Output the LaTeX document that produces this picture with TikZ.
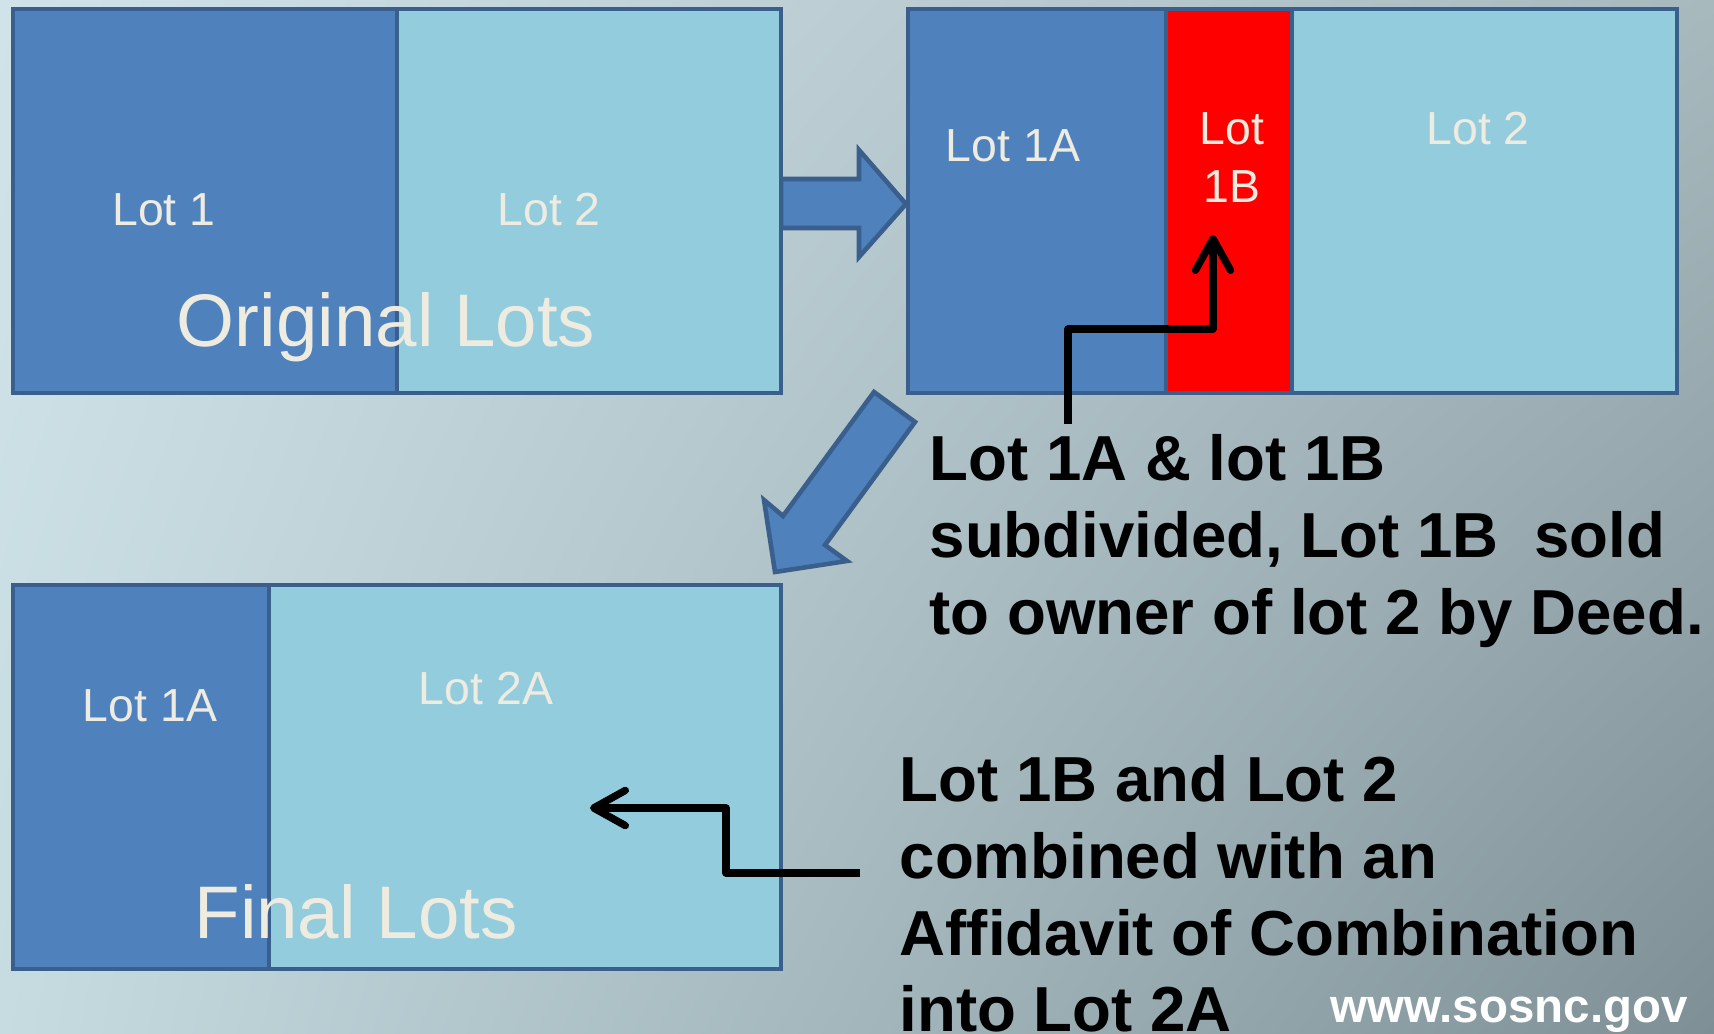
\documentclass[tikz,border=0pt]{standalone}
\usepackage{fontspec}
\setmainfont{Liberation Sans}
\usetikzlibrary{arrows.meta,shadings}

\definecolor{lotdark}{HTML}{4F81BD}
\definecolor{lotlight}{HTML}{93CDDD}
\definecolor{lotedge}{HTML}{3A5F8C}
\definecolor{labeltext}{HTML}{EEECE1}
\definecolor{bgul}{HTML}{D0E3E9}
\definecolor{bgur}{HTML}{A8B9BE}
\definecolor{bgll}{HTML}{C6DCE1}
\definecolor{bglr}{HTML}{7E9096}

\begin{document}
\begin{tikzpicture}[
  lot/.style = {draw=lotedge, line width=1.3pt},
  lotlabel/.style = {text=labeltext, inner sep=0pt, font=\fontsize{13.2}{16.5}\selectfont},
  bigtitle/.style = {text=labeltext, inner sep=0pt, anchor=base, font=\fontsize{21.2}{25}\selectfont},
  note/.style = {inner sep=0pt, anchor=north west, align=left, font=\bfseries\fontsize{18.1}{21.8}\selectfont},
  blockarrow/.style = {fill=lotdark, draw=lotedge, line width=1.3pt},
  bentarrow/.style = {line width=2.1pt, line join=round, -{Straight Barb[length=9pt,width=10pt,round]}}
]

\useasboundingbox (0,0) rectangle (17.14,10.33);
\shade[upper left=bgul, upper right=bgur, lower left=bgll, lower right=bglr]
  (0,0) rectangle (17.14,10.33);

% block arrows
\draw[blockarrow] (7.81,8.54) -- (8.59,8.54) -- (8.59,8.83) -- (9.06,8.29)
  -- (8.59,7.76) -- (8.59,8.05) -- (7.81,8.05) -- cycle;
\draw[blockarrow] (8.74,6.41) -- (9.15,6.11) -- (8.25,4.88) -- (8.47,4.72)
  -- (7.75,4.61) -- (7.64,5.33) -- (7.83,5.17) -- cycle;

% original lots
\draw[lot, fill=lotdark] (0.13,6.40) rectangle (3.97,10.24);
\draw[lot, fill=lotlight] (3.97,6.40) rectangle (7.81,10.24);
\draw (1.64,8.07) node[lotlabel, anchor=base] (lot1) {Lot 1};
\draw (5.49,8.07) node[lotlabel, anchor=base] (lot2) {Lot 2};
\draw (3.86,6.86) node[bigtitle] (original) {Original Lots};

% subdivided lots
\draw[lot, fill=lotdark] (9.08,6.40) rectangle (11.66,10.24);
\draw[lot, fill=red] (11.66,6.40) rectangle (12.92,10.24);
\draw[lot, fill=lotlight] (12.92,6.40) rectangle (16.77,10.24);
\draw (10.13,8.71) node[lotlabel, anchor=base] (sub1a) {Lot 1A};
\draw (12.32,9.21) node[lotlabel, anchor=north, align=center] (sub1b) {Lot\\1B};
\draw (14.78,8.88) node[lotlabel, anchor=base] (sub2) {Lot 2};

% final lots
\draw[lot, fill=lotdark] (0.13,0.64) rectangle (2.69,4.48);
\draw[lot, fill=lotlight] (2.69,0.64) rectangle (7.81,4.48);
\draw (1.50,3.11) node[lotlabel, anchor=base] (fin1a) {Lot 1A};
\draw (4.86,3.28) node[lotlabel, anchor=base] (fin2a) {Lot 2A};
\draw (3.56,0.95) node[bigtitle] (final) {Final Lots};

% notes
\draw (9.29,5.99) node[note] (deednote) {Lot 1A \& lot 1B\\subdivided, Lot 1B\ \ sold\\to owner of lot 2 by Deed.};
\draw (8.99,2.78) node[note] (combnote) {Lot 1B and Lot 2\\combined with an\\Affidavit of Combination\\into Lot 2A};
\draw (13.30,0.11) node[anchor=base west, inner sep=0pt, text=white, font=\bfseries\fontsize{13.5}{16}\selectfont] (web) {www.sosnc.gov};

% bent arrows
\coordinate (s1) at (10.68,6.09);
\coordinate (t1) at (12.13,7.98);
\draw[bentarrow] (s1) -- ++(0,0.95) -| (t1);
\coordinate (s2) at (8.60,1.60);
\coordinate (t2) at (5.90,2.25);
\draw[bentarrow] (s2) -- ++(-1.34,0) |- (t2);
\end{tikzpicture}
\end{document}
